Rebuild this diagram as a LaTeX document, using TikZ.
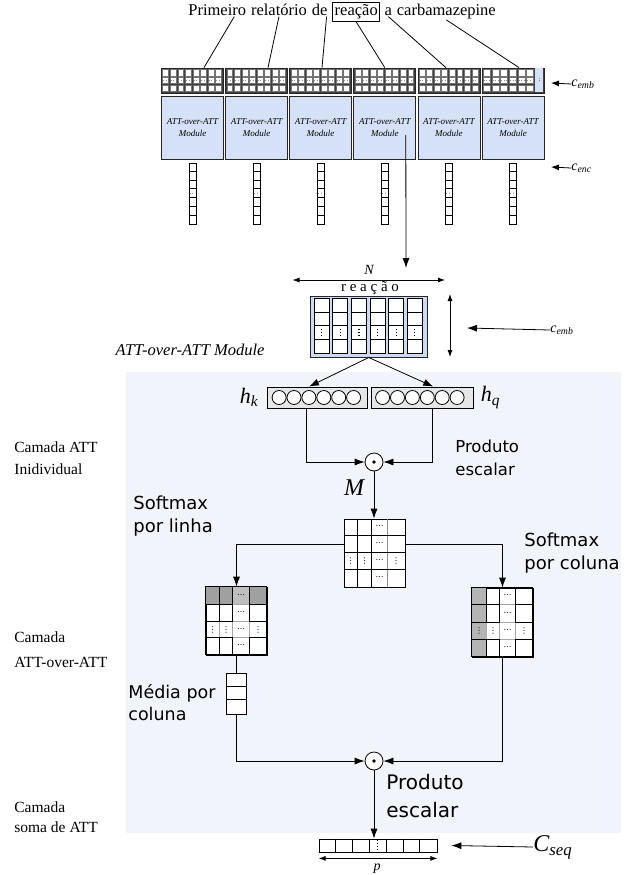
\documentclass[tikz,border=0pt]{standalone}
\usepackage{fontspec}
\setmainfont{Liberation Serif}
\newfontfamily\sansdv{DejaVu Sans}
\usetikzlibrary{positioning,arrows.meta}
\definecolor{modblue}{RGB}{212,225,247}
\definecolor{reacblue}{RGB}{205,218,242}
\definecolor{layershade}{RGB}{241,244,250}
\definecolor{hboxgray}{RGB}{230,230,230}
\definecolor{rowgray}{RGB}{160,160,160}
\definecolor{rowgraylt}{RGB}{190,190,190}
\definecolor{colgray}{RGB}{180,180,180}
\begin{document}
\begin{tikzpicture}[x=1pt,y=-1pt,line width=0.8pt]
        \tikzstyle{word}=[inner sep=0pt,font=\fontsize{16.5}{18}\selectfont]
        \tikzstyle{embblk}=[draw=black!85,fill=black!75,minimum width=62pt,minimum height=25pt,inner sep=0pt]
        \tikzstyle{module}=[draw=black!85,fill=modblue,minimum width=62pt,minimum height=63pt,inner sep=0pt,align=center,font=\fontsize{9}{12}\selectfont\itshape]
        \tikzstyle{enccol}=[draw,fill=white,minimum width=7pt,minimum height=61pt,inner sep=0pt]
        \tikzstyle{dotop}=[circle,draw,fill=white,minimum size=18pt,inner sep=0pt]
        \tikzstyle{grid}=[draw,fill=white,inner sep=0pt]
        \tikzstyle{flow}=[draw,-{Latex[length=10pt,width=7pt]}]
        \tikzstyle{smallflow}=[draw,-{Latex[length=8pt,width=6pt]}]
        \tikzstyle{plain}=[draw]
        \tikzstyle{dimarrow}=[draw,{Latex[length=7pt,width=5pt]}-{Latex[length=7pt,width=5pt]}]
        \tikzstyle{dots}=[inner sep=0pt,font=\sansdv\fontsize{8}{8}\selectfont]
        \tikzstyle{sidelabel}=[anchor=west,align=left,inner sep=0pt,font=\fontsize{15.5}{22}\selectfont]
        \tikzstyle{sanslabel}=[anchor=west,align=left,inner sep=0pt]

        \useasboundingbox (0,0) rectangle (641,875);
        \fill[layershade] (126,372) rectangle (621,833);

        % sentence
        \node[word,anchor=base west] (w1) at (188,16) {Primeiro};
        \node[word,base right=4.1pt of w1] (w2) {relatório};
        \node[word,base right=4.1pt of w2] (w3) {de};
        \node[word,draw,inner sep=2pt,base right=4.5pt of w3] (w4) {reação};
        \node[word,base right=4.1pt of w4] (w5) {a};
        \node[word,base right=4.1pt of w5] (w6) {carbamazepine};

        % embeddings, modules, encodings
        \foreach \i in {1,...,6} {
           \node[embblk] (emb\i) at (192.5+64.1*\i-64.1,80.5) {};
           \node[module] (mod\i) at (192.5+64.1*\i-64.1,127.5) {ATT-over-ATT\\Module};
           \node[enccol] (enc\i) at (192.5+64.1*\i-64.1,193.5) {};
           \foreach \r in {1,...,6}
              \draw[line width=0.6pt] (enc\i.north west) ++(0,8.7*\r) -- ++(7,0);
           \draw[dotted,black!50] (enc\i.north west) ++(1,30.5) -- ++(5,0);
        }
        \foreach \i in {1,...,5}
           \foreach \c in {0,...,7} {
              \foreach \r in {0,1,2}
                 \draw[fill=white,draw=black!55,line width=0.4pt] (emb\i.north west) ++(1.5+7.55*\c,1.7+7.7*\r) rectangle ++(5.9,6.4);
              \draw[black!45,dotted,line width=0.6pt] (emb\i.north west) ++(2.2+7.55*\c,12.6) -- ++(4.4,0);
           }
        \foreach \c in {0,...,5} {
           \foreach \r in {0,1,2}
              \draw[fill=white,draw=black!55,line width=0.4pt] (emb6.north west) ++(1.5+8.7*\c,1.7+7.7*\r) rectangle ++(6.9,6.4);
           \draw[black!45,dotted,line width=0.6pt] (emb6.north west) ++(2.2+8.7*\c,12.6) -- ++(5.4,0);
        }
        \fill[modblue] (emb6.north west) ++(53.6,0.8) rectangle ++(7.6,23.4);
        \draw[dotted,black!50] (emb6.north west) ++(57.4,10) -- ++(0,5);

        \path[plain] ([xshift=17pt]w1.south) -- ([xshift=11.5pt]emb1.north);
        \path[plain] (w2.south) -- ([xshift=11.4pt]emb2.north);
        \path[plain] ([xshift=7pt]w3.south) -- ([xshift=1.3pt]emb3.north);
        \path[plain] (w4.south) -- (emb4.north);
        \path[plain] (w5.south) -- ([xshift=-3pt]emb5.north);
        \path[plain] (w6.south) -- ([xshift=6pt]emb6.north);

        \node[anchor=west,inner sep=0pt,font=\fontsize{14}{14}\selectfont\itshape] (cemb1) at (571,84) {c\textsubscript{emb}};
        \coordinate (cembtip1) at (551,83);
        \path[smallflow] (cemb1.west) -- (cembtip1);
        \node[anchor=west,inner sep=0pt,font=\fontsize{14}{14}\selectfont\itshape] (cenc) at (571,168) {c\textsubscript{enc}};
        \coordinate (cenctip) at (551,167);
        \path[smallflow] (cenc.west) -- (cenctip);

        % module detail
        \coordinate (modout) at (406,268);
        \path[flow] ([xshift=21pt,yshift=-7.5pt]mod4.center) -- (modout);
        \node[inner sep=0pt,font=\fontsize{14}{14}\selectfont\itshape] (nlab) at (369,270) {N};
        \coordinate (nl) at (292.5,280);
        \coordinate (nr) at (445,280);
        \path[dimarrow] (nl) -- (nr);
        \node[inner sep=0pt,font=\fontsize{15}{15}\selectfont] (reacword) at (370,288) {r e a ç ã o};
        \node[draw=black!85,fill=reacblue,minimum width=116.5pt,minimum height=61pt,inner sep=0pt,line width=1pt] (reac) at (368.75,326.5) {};
        \foreach \c in {0,...,5} {
           \draw[fill=white] (reac.north west) ++(4.25+18.6*\c,3) rectangle ++(15,55);
           \foreach \y in {17,30,44}
              \draw[line width=0.6pt] (reac.north west) ++(4.25+18.6*\c,\y) -- ++(15,0);
           \draw[dotted,line width=1.2pt] (reac.north west) ++(11.75+18.6*\c,33) -- ++(0,8);
        }
        \coordinate (vt) at (450,294);
        \coordinate (vb) at (450,357);
        \path[dimarrow] (vt) -- (vb);
        \node[anchor=west,inner sep=0pt,font=\fontsize{14}{14}\selectfont\itshape] (cemb2) at (550,330) {c\textsubscript{emb}};
        \coordinate (cembtip2) at (467,328);
        \path[flow] (cemb2.west) -- (cembtip2);
        \node[inner sep=0pt,font=\fontsize{16.5}{18}\selectfont\itshape] (aoalab) at (190,350) {ATT-over-ATT Module};

        % individual ATT layer
        \node[draw,fill=hboxgray,minimum width=100pt,minimum height=21pt,inner sep=0pt] (hk) at (317,397.5) {};
        \node[draw,fill=hboxgray,minimum width=101.5pt,minimum height=21pt,inner sep=0pt] (hq) at (422.25,397.5) {};
        \foreach \c in {0,...,5} {
           \draw[fill=white] (hk.west) ++(12.5+14.9*\c,0) circle (7);
           \draw[fill=white] (hq.west) ++(11.5+14.9*\c,0) circle (7);
        }
        \node[inner sep=0pt,font=\fontsize{22}{22}\selectfont\itshape,left=8pt of hk] (hklab) {h\textsubscript{k}};
        \node[inner sep=0pt,font=\fontsize{22}{22}\selectfont\itshape,right=7pt of hq] (hqlab) {h\textsubscript{q}};
        \path[flow] (reac.south) -- ([xshift=-8pt]hk.north);
        \path[flow] (reac.south) -- ([xshift=11pt]hq.north);

        \node[dotop] (dot1) at (374,462) {};
        \fill (dot1) circle (1.8);
        \path[flow] ([xshift=-11pt]hk.south) |- (dot1.west);
        \path[flow] ([xshift=10pt]hq.south) |- (dot1.east);
        \node[sanslabel,font=\sansdv\fontsize{16.5}{23}\selectfont] (prod1) at (455,458) {Produto\\escalar};
        \node[sidelabel] (lay1) at (14,458) {Camada ATT\\Inidividual};
        \node[inner sep=0pt,font=\fontsize{24}{24}\selectfont\itshape] (mlab) at (354,488) {M};

        \node[grid,minimum width=61pt,minimum height=68pt] (mmat) at (374.5,553) {};
        \foreach \x in {14,28}
           \draw (mmat.north west) ++(\x,0) -- ++(0,68);
        \draw[black!45] (mmat.north west) ++(44,0) -- ++(0,68);
        \foreach \y in {17,34,51}
           \draw (mmat.north west) ++(0,\y) -- ++(61,0);
        \path[flow] (dot1.south) -- (dot1.south |- mmat.north);
        \foreach \y in {8.5,25.5,42.5,59.5}
           \path (mmat.north west) ++(36,\y) node[dots] {⋯};
        \foreach \x in {7,21,52.5}
           \path (mmat.north west) ++(\x,42.5) node[dots] {⋮};
        \node[sanslabel,font=\sansdv\fontsize{18}{23}\selectfont] (smrow) at (133,516) {Softmax\\por linha};
        \node[sanslabel,font=\sansdv\fontsize{18}{23}\selectfont] (smcol) at (524,553) {Softmax\\por coluna};

        % ATT-over-ATT layer
        \node[grid,minimum width=61pt,minimum height=68pt] (lmat) at (236.5,621) {};
        \fill[rowgray] (lmat.north west) rectangle ++(61,18);
        \fill[rowgraylt] (lmat.north west) ++(27,0) rectangle ++(17,18);
        \foreach \x in {14,27,44}
           \draw[black!35,line width=0.5pt] (lmat.north west) ++(\x,0) -- ++(0,68);
        \foreach \y in {18,35,51}
           \draw[black!35,line width=0.5pt] (lmat.north west) ++(0,\y) -- ++(61,0);
        \foreach \y/\h in {0/18,18/17,51/17}
           \foreach \x/\w in {0/14,14/13,44/17}
              \draw (lmat.north west) ++(\x,\y) rectangle ++(\w,\h);
        \draw (lmat.north west) rectangle ++(61,68);
        \foreach \y in {9,26.5,43,59.5}
           \path (lmat.north west) ++(35.5,\y) node[dots] {⋯};
        \foreach \x in {7,20.5,52.5}
           \path (lmat.north west) ++(\x,43) node[dots] {⋮};

        \node[grid,minimum width=61pt,minimum height=69pt] (cmat) at (502.5,622.5) {};
        \fill[colgray] (cmat.north west) rectangle ++(15,69);
        \foreach \x in {15,28,44}
           \draw[black!35,line width=0.5pt] (cmat.north west) ++(\x,0) -- ++(0,69);
        \foreach \y in {17,35,52}
           \draw[black!35,line width=0.5pt] (cmat.north west) ++(0,\y) -- ++(61,0);
        \foreach \y/\h in {0/17,17/18,52/17}
           \foreach \x/\w in {0/15,15/13,44/17}
              \draw (cmat.north west) ++(\x,\y) rectangle ++(\w,\h);
        \draw (cmat.north west) rectangle ++(61,69);
        \foreach \y in {8.5,26,43.5,60.5}
           \path (cmat.north west) ++(36,\y) node[dots] {⋯};
        \foreach \x in {7.5,21.5,52.5}
           \path (cmat.north west) ++(\x,43.5) node[dots] {⋮};

        \path[flow] ([yshift=9pt]mmat.west) -| (lmat.north);
        \path[flow] ([yshift=9pt]mmat.east) -| (cmat.north);
        \node[sidelabel,font=\fontsize{15.5}{25}\selectfont] (lay2) at (14,649.5) {Camada\\ATT-over-ATT};

        \node[grid,minimum width=19.5pt,minimum height=41pt] (media) at (236.5,693.5) {};
        \foreach \y in {14,27}
           \draw (media.north west) ++(0,\y) -- ++(19.5,0);
        \path[plain] (lmat.south) -- (media.north);
        \node[sanslabel,font=\sansdv\fontsize{17.5}{22}\selectfont] (medlab) at (128,703) {Média por\\coluna};

        % ATT sum layer
        \node[dotop] (dot2) at (374,761) {};
        \fill (dot2) circle (1.8);
        \path[flow] (media.south) |- (dot2.west);
        \path[flow] (cmat.south) |- (dot2.east);
        \node[sanslabel,font=\sansdv\fontsize{20}{28}\selectfont] (prod2) at (386,796) {Produto\\escalar};
        \node[sidelabel,font=\fontsize{15.5}{20}\selectfont] (lay3) at (14,817) {Camada\\soma de ATT};

        \node[grid,minimum width=118pt,minimum height=13pt] (vec) at (378,845.5) {};
        \foreach \c in {1,...,6}
           \draw (vec.north west) ++(16.86*\c,0) -- ++(0,13);
        \draw[dotted,line width=1pt] (vec.north west) ++(59,1.5) -- ++(0,10);
        \path[flow] (dot2.south) -- (dot2.south |- vec.north);
        \path[dimarrow] ([yshift=-6pt]vec.south west) -- ([yshift=-6pt]vec.south east);
        \node[inner sep=0pt,font=\fontsize{14}{14}\selectfont\itshape] (plab) at (377,869) {p};
        \node[anchor=west,inner sep=0pt,font=\fontsize{24}{24}\selectfont\itshape] (cseq) at (533,847) {C\textsubscript{seq}};
        \path[flow] (cseq.west) -- ([xshift=14pt]vec.east);
\end{tikzpicture}
\end{document}
